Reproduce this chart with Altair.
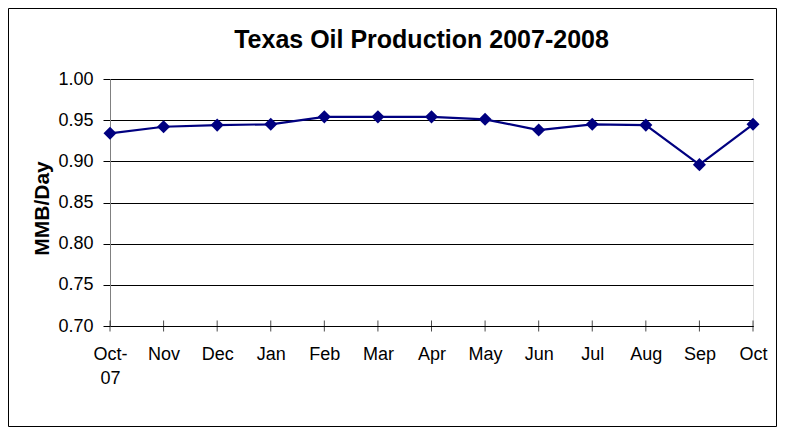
import altair as alt
import pandas as pd

months = ["Oct-07", "Nov", "Dec", "Jan", "Feb", "Mar", "Apr", "May", "Jun", "Jul", "Aug", "Sep", "Oct"]
values = [0.934, 0.942, 0.944, 0.945, 0.954, 0.954, 0.954, 0.951, 0.938, 0.945, 0.944, 0.896, 0.945]
y_ticks = [0.70, 0.75, 0.80, 0.85, 0.90, 0.95, 1.00]
y_floor = 0.70

df = pd.DataFrame({"month": months, "value": values})

FONT = "Liberation Sans"
NAVY = "#000080"

x_axis = alt.Axis(
    title=None,
    ticks=False,
    domainColor="#000000",
    domainWidth=1,
    labelFont=FONT,
    labelFontSize=18,
    labelColor="#000000",
    labelPadding=19,
    labelAngle=0,
    labelAlign="center",
    labelFlush=False,
    labelOverlap=False,
    labelLineHeight=24,
    labelExpr="datum.value == 'Oct-07' ? ['Oct-', '07'] : datum.value",
    grid=False,
)

y_axis = alt.Axis(
    title="MMB/Day",
    titleFont=FONT,
    titleFontSize=21,
    titleFontWeight="bold",
    titleColor="#000000",
    titleX=-62,
    titleY=129,
    titleAngle=270,
    titleAlign="center",
    titleBaseline="alphabetic",
    values=y_ticks,
    format=".2f",
    labelFont=FONT,
    labelFontSize=18,
    labelColor="#000000",
    labelPadding=10,
    labelFlush=False,
    tickSize=7,
    tickColor="#000000",
    domainColor="#808080",
    domainWidth=1,
    grid=True,
    gridColor="#000000",
    gridWidth=1,
    gridOpacity=1,
)

x_scale = alt.Scale(type="point", padding=0)
y_scale = alt.Scale(domain=[0.70, 1.00], zero=False, nice=False)

x_enc = alt.X("month:N", sort=months, scale=x_scale, axis=x_axis)
y_enc = alt.Y("value:Q", scale=y_scale, axis=y_axis)

line = alt.Chart(df).mark_line(color=NAVY, strokeWidth=2.2).encode(x=x_enc, y=y_enc)
points = alt.Chart(df).mark_point(
    shape="diamond", filled=True, size=170, color=NAVY, opacity=1
).encode(x=x_enc, y=y_enc)

cross_ticks = (
    alt.Chart(df)
    .transform_calculate(floor=str(y_floor))
    .mark_tick(orient="vertical", size=11, thickness=1, color="#000000")
    .encode(
        x=x_enc,
        y=alt.Y("floor:Q", scale=y_scale, axis=y_axis),
    )
)

border = (
    alt.Chart(pd.DataFrame({"b": [0]}))
    .mark_rect(filled=False, stroke="#000000", strokeWidth=1)
    .encode(
        x=alt.value(-101.5),
        x2=alt.value(666.5),
        y=alt.value(-70.5),
        y2=alt.value(347.5),
    )
)

chart = (
    alt.layer(border, line, points, cross_ticks)
    .properties(
        width=643,
        height=247,
        autosize="none",
        padding={"left": 102, "top": 71, "right": 24, "bottom": 102},
        title=alt.Title(
            "Texas Oil Production 2007-2008",
            font=FONT,
            fontSize=25,
            fontWeight="bold",
            color="#000000",
            anchor="middle",
            dx=-10,
            offset=-45,
        ),
    )
    .configure_view(stroke=None)
    .configure(background="#ffffff")
)

chart.save("out.html", embed_options={"renderer": "svg", "actions": False})
